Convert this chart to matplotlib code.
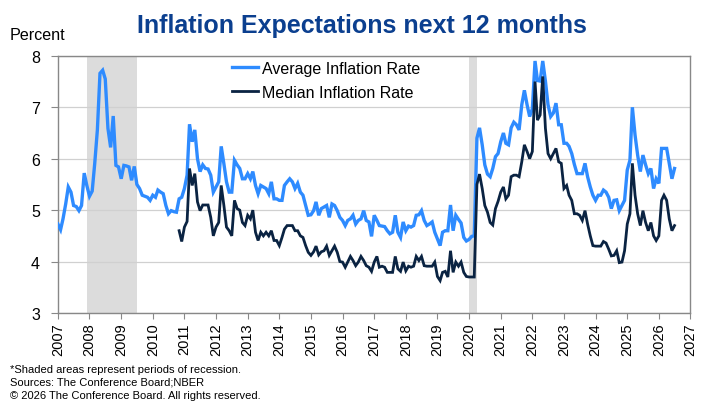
import matplotlib
matplotlib.use("Agg")
import matplotlib.pyplot as plt
import pandas as pd

plt.rcParams['font.family'] = ['Liberation Sans', 'DejaVu Sans']

# Monthly average inflation expectations, starting Jan 2007
average_rate = [
    4.73, 4.62, 4.83, 5.12, 5.45, 5.35, 5.09, 5.07, 4.99, 5.09, 5.72, 5.48,
    5.27, 5.37, 5.90, 6.56, 7.66, 7.72, 7.55, 6.59, 6.22, 6.83, 5.87, 5.84,
    5.61, 5.87, 5.86, 5.84, 5.58, 5.85, 5.50, 5.42, 5.29, 5.27, 5.25, 5.19,
    5.29, 5.25, 5.39, 5.35, 5.32, 5.09, 4.93, 4.99, 4.97, 4.96, 5.22, 5.25,
    5.42, 5.68, 6.67, 6.33, 6.56, 6.00, 5.75, 5.88, 5.81, 5.80, 5.68, 5.35,
    5.45, 5.55, 6.24, 5.90, 5.55, 5.35, 5.35, 5.97, 5.88, 5.81, 5.61, 5.61,
    5.71, 5.61, 5.75, 5.48, 5.32, 5.48, 5.45, 5.42, 5.32, 5.55, 5.22, 5.22,
    5.19, 5.19, 5.48, 5.55, 5.61, 5.55, 5.42, 5.52, 5.35, 5.29, 5.09, 4.90,
    4.91, 4.99, 5.16, 4.90, 5.03, 5.06, 5.09, 4.86, 5.12, 5.09, 4.99, 4.86,
    4.80, 4.70, 4.80, 4.83, 4.90, 4.73, 4.80, 4.83, 4.99, 4.80, 4.77, 4.49,
    4.90, 4.80, 4.70, 4.69, 4.68, 4.60, 4.54, 4.57, 4.90, 4.57, 4.47, 4.77,
    4.60, 4.69, 4.67, 4.70, 4.90, 4.91, 4.99, 4.80, 4.70, 4.73, 4.77, 4.57,
    4.44, 4.31, 4.57, 4.60, 4.60, 5.10, 4.60, 4.90, 4.82, 4.75, 4.47, 4.40,
    4.43, 4.49, 4.50, 6.40, 6.60, 6.27, 5.88, 5.70, 5.65, 5.81, 6.04, 6.10,
    6.33, 6.50, 6.30, 6.27, 6.60, 6.71, 6.66, 6.56, 7.05, 7.33, 7.05, 6.82,
    6.97, 7.90, 7.52, 7.51, 7.90, 7.51, 7.05, 6.82, 6.89, 7.08, 6.66, 6.66,
    6.30, 6.30, 6.24, 6.10, 5.89, 5.71, 5.71, 5.71, 5.91, 5.65, 5.45, 5.29,
    5.19, 5.29, 5.29, 5.39, 5.35, 5.25, 5.03, 5.19, 5.20, 4.99, 5.09, 5.19,
    5.78, 5.97, 7.00, 6.46, 6.07, 5.75, 6.07, 5.88, 5.71, 5.81, 5.42, 5.61,
    5.52, 6.20, 6.20, 6.20, 5.91, 5.61, 5.81,
]

# Monthly median inflation expectations, starting Nov 2010
median_rate = [
    4.60, 4.39,
    4.67, 4.78, 5.81, 5.48, 5.71, 5.16, 4.99, 5.10, 5.10, 5.10, 4.86, 4.50,
    4.67, 4.76, 5.48, 5.09, 4.67, 4.60, 4.50, 5.19, 5.03, 5.00, 4.76, 4.70,
    4.90, 4.83, 5.00, 4.57, 4.41, 4.57, 4.50, 4.57, 4.50, 4.60, 4.41, 4.41,
    4.31, 4.47, 4.63, 4.70, 4.70, 4.70, 4.60, 4.60, 4.50, 4.47, 4.31, 4.18,
    4.12, 4.19, 4.30, 4.13, 4.19, 4.21, 4.30, 4.12, 4.21, 4.30, 4.18, 4.00,
    3.99, 3.89, 3.99, 4.10, 4.02, 3.92, 3.99, 4.10, 4.02, 3.92, 3.89, 3.81,
    3.99, 4.10, 3.89, 3.91, 3.89, 3.79, 3.79, 3.79, 4.10, 3.86, 3.81, 3.99,
    3.82, 3.91, 3.89, 3.91, 4.10, 4.02, 4.10, 3.92, 3.91, 3.91, 3.91, 3.99,
    3.71, 3.63, 3.79, 3.81, 3.70, 4.21, 3.79, 3.99, 3.91, 3.99, 3.79, 3.71,
    3.70, 3.70, 3.70, 5.50, 5.70, 5.42, 5.09, 4.96, 4.76, 4.71, 5.03, 5.17,
    5.35, 5.45, 5.22, 5.29, 5.65, 5.68, 5.68, 5.65, 5.94, 6.27, 6.14, 6.00,
    6.14, 7.50, 6.75, 6.85, 7.60, 6.59, 6.10, 6.00, 6.10, 6.20, 5.94, 5.91,
    5.42, 5.48, 5.29, 5.19, 4.93, 4.93, 4.90, 4.80, 4.99, 4.73, 4.50, 4.31,
    4.30, 4.30, 4.30, 4.39, 4.36, 4.24, 4.11, 4.12, 4.21, 3.98, 3.99, 4.21,
    4.73, 4.93, 5.91, 5.29, 4.93, 4.70, 4.99, 4.76, 4.60, 4.76, 4.50, 4.41,
    4.50, 5.19, 5.29, 5.19, 4.83, 4.60, 4.70,
]

average_start = "2007-01-01"
median_start = "2010-11-01"
recessions = [("2007-12-01", "2009-07-01"), ("2020-01-01", "2020-04-01")]
year_ticks = list(range(2007, 2028))
y_ticks = [3, 4, 5, 6, 7, 8]

avg_dates = pd.date_range(average_start, periods=len(average_rate), freq="MS")
med_dates = pd.date_range(median_start, periods=len(median_rate), freq="MS")

fig = plt.figure(figsize=(7.06, 4.06), dpi=100)
ax = fig.add_axes([0.082, 0.2266, 0.896, 0.6334])

for start, end in recessions:
    ax.axvspan(pd.Timestamp(start), pd.Timestamp(end), color="#DCDCDC", lw=0, zorder=0)

ax.plot(avg_dates, average_rate, color="#2E8BFF", lw=2.4, label="Average Inflation Rate",
        zorder=3, solid_joinstyle="miter")
ax.plot(med_dates, median_rate, color="#0A2342", lw=2.0, label="Median Inflation Rate",
        zorder=4, solid_joinstyle="miter")

ax.set_ylim(3, 8)
ax.set_yticks(y_ticks)
ax.set_xlim(pd.Timestamp(f"{year_ticks[0]}-01-01"), pd.Timestamp(f"{year_ticks[-1]}-01-01"))
ax.set_xticks([pd.Timestamp(f"{y}-01-01") for y in year_ticks])
ax.set_xticklabels([str(y) for y in year_ticks], rotation=90, fontsize=10.5)
ax.tick_params(axis="y", labelsize=11.5, length=5, color="#888888", pad=8)
ax.tick_params(axis="x", length=4, color="#888888", pad=3)
ax.grid(axis="y", color="#D0D0D0", lw=0.9)
ax.set_axisbelow(True)
for s in ax.spines.values():
    s.set_color("#888888")
    s.set_linewidth(1.0)

leg = ax.legend(loc="upper left", bbox_to_anchor=(232 / 706, 1 - 62 / 406),
                bbox_transform=fig.transFigure, frameon=False, borderpad=0,
                borderaxespad=0, fontsize=11.5, handlelength=1.65,
                handletextpad=0.2, labelspacing=0.56)

fig.text(0.512, 0.936, "Inflation Expectations next 12 months", ha="center", va="center",
         fontsize=18, fontweight="bold", color="#0B3F8F")
fig.text(0.014, 0.913, "Percent", ha="left", va="center", fontsize=11.6)

foot = ["*Shaded areas represent periods of recession.",
        "Sources: The Conference Board;NBER",
        "\u00a9 2026 The Conference Board. All rights reserved."]
for i, t in enumerate(foot):
    fig.text(0.014, 1 - (370 + i * 13) / 406, t, ha="left", va="center", fontsize=8.0)

fig.savefig("out.png", dpi=100)
